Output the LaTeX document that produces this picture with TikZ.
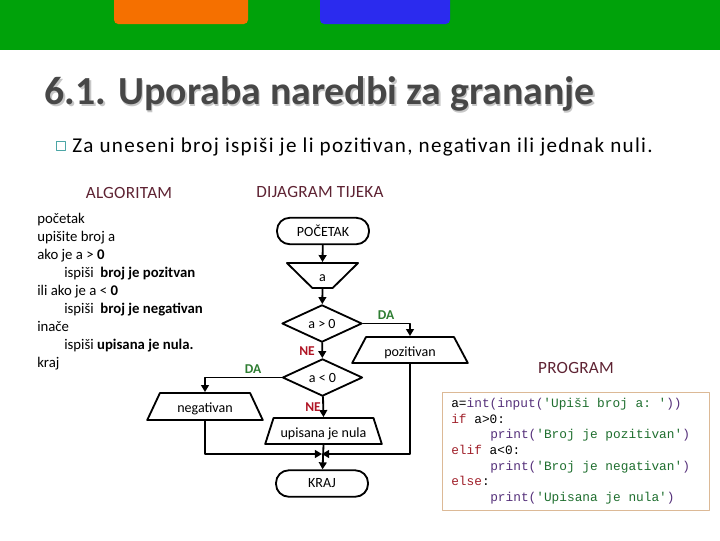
\documentclass[tikz,border=0pt]{standalone}
\usepackage{fontspec}
\setmainfont{Carlito}
\setmonofont{Liberation Mono}
\newfontfamily\spacedfont[LetterSpace=6.2]{Carlito}
\newfontfamily\headfont[LetterSpace=1.5]{Carlito}
\usetikzlibrary{arrows.meta,shapes.geometric}
\definecolor{headgreen}{HTML}{00A20A}
\definecolor{taborange}{HTML}{F57000}
\definecolor{tabblue}{HTML}{2B2BEE}
\definecolor{headred}{HTML}{5E2333}
\definecolor{dagreen}{HTML}{2E7D32}
\definecolor{nered}{HTML}{B01525}
\definecolor{kwred}{HTML}{A0202A}
\definecolor{strgreen}{HTML}{1E6E2E}
\definecolor{fnpurple}{HTML}{55307A}
\newcommand{\iotext}[1]{\raisebox{-2.4pt}[7pt][3pt]{#1}}
\tikzset{
  flowtext/.style={font=\fontsize{10}{12}\selectfont},
  startstop/.style={draw,flowtext,rounded corners=9pt,line width=1.3pt,inner sep=0pt,minimum width=2.3cm,minimum height=0.66cm},
  ioshape/.style={draw,flowtext,trapezium,trapezium stretches=true,line width=1.3pt,inner sep=0pt},
  branch/.style={draw,flowtext,diamond,line width=1.3pt,inner sep=0pt,minimum width=2cm,minimum height=0.93cm},
  flow/.style={line width=1.3pt,->},
  answer/.style={font=\fontsize{9.6}{11}\selectfont\bfseries},
  heading/.style={headred,font=\fontsize{12.2}{14}\headfont},
  algline/.style={anchor=base west,yshift=-3.5pt,inner sep=0pt,font=\fontsize{10.5}{12}\selectfont},
  codeline/.style={anchor=base west,yshift=-2.2pt,inner sep=0pt,font=\ttfamily\fontsize{9.1}{11}\selectfont}
}
\begin{document}
\begin{tikzpicture}[line cap=round,line join=round,>={Triangle[length=5pt,width=5.5pt]},x=0.025cm,y=-0.025cm]
	\useasboundingbox (0,0) rectangle (720,540);
	\fill [headgreen] (0,0) rectangle (720,50);
	\fill [taborange,rounded corners=3pt] (114,-5) -- (114,24) -- (248,24) -- (248,-5) -- cycle;
	\fill [tabblue,rounded corners=3pt] (320,-5) -- (320,24) -- (450,24) -- (450,-5) -- cycle;
	\node (titleshadow) [anchor=west,inner sep=0pt,black!22,font=\fontsize{28.3}{32}\selectfont\bfseries] at (46,95.5) {6.1. Uporaba naredbi za grananje};
	\node (title) [anchor=west,inner sep=0pt,black!72,font=\fontsize{28.3}{32}\selectfont\bfseries] at (44.5,94) {6.1. Uporaba naredbi za grananje};
	\node (bullet) [draw=teal!70,line width=0.5pt,minimum size=0.24cm,inner sep=0pt] at (61,146) {};
	\node (intro) [anchor=west,inner sep=0pt,font=\fontsize{15}{18}\spacedfont] at (72,147) {Za uneseni broj ispiši je li pozitivan, negativan ili jednak nuli.};
	\node (algtitle) [heading] at (129,193) {ALGORITAM};
	\node (flowtitle) [heading] at (320,192) {DIJAGRAM TIJEKA};
	\node (progtitle) [heading] at (576,368) {PROGRAM};
	% algoritam
	\foreach \x/\y/\t in {37/219/početak,37/237/upišite broj a,37/255/ako je a > \textbf{0},64/273/ispiši \ \textbf{broj je pozitvan},37/291/ili ako je a < \textbf{0},64/309/ispiši \ \textbf{broj je negativan},37/327/inače,64/345/ispiši \textbf{upisana je nula.},37/363/kraj}
		\node (alg\y) [algline] at (\x,\y) {\t};
	% dijagram
	\node (start) [startstop] at (323,231) {POČETAK};
	\node (input) [ioshape,shape border rotate=180,trapezium left angle=59,trapezium right angle=59,minimum width=1.78cm,minimum height=0.625cm] at (322.5,275.5) {\iotext{a}};
	\node (test1) [branch] at (322,323.5) {a > 0};
	\node (test2) [branch] at (322.5,377.5) {a < 0};
	\node (pos) [ioshape,trapezium left angle=60,trapezium right angle=60,minimum width=2.9cm,minimum height=0.65cm] at (410,350) {\iotext{pozitivan}};
	\node (neg) [ioshape,trapezium left angle=61,trapezium right angle=61,minimum width=2.9cm,minimum height=0.675cm] at (205,406.5) {\iotext{negativan}};
	\node (zero) [ioshape,trapezium left angle=63,trapezium right angle=63,minimum width=2.925cm,minimum height=0.65cm] at (323.5,431) {\iotext{upisana je nula}};
	\node (kraj) [startstop] at (322,483.5) {KRAJ};
	\coordinate (merge) at (322,454);
	\draw [flow] (start) -- (input.bottom side);
	\draw [flow] (input.top side) -- (test1);
	\draw [flow] (test1) -- (test2);
	\draw [flow] (test2) -- (zero.top side);
	\draw [flow] (zero.bottom side) -- (kraj);
	\draw [flow] (test1.east) -| (pos.top side);
	\draw [flow] (test2.west) -| (neg.top side);
	\draw [flow] (pos.bottom side) |- (merge);
	\draw [flow] (neg.bottom side) |- (merge);
	\node (da1) [answer,dagreen] at (386,315) {DA};
	\node (da2) [answer,dagreen] at (253,369) {DA};
	\node (ne1) [answer,nered] at (307,351) {NE};
	\node (ne2) [answer,nered] at (313,407) {NE};
	% program
	\node (codebox) [draw=brown!55!white,line width=0.7pt,minimum width=6.65cm,minimum height=2.95cm,inner sep=0pt] at (576,451) {};
	\node (code1) [codeline] at (451,404) {a=\textcolor{fnpurple}{int(input(}\textcolor{strgreen}{'Upiši broj a: '}\textcolor{fnpurple}{))}};
	\node (code2) [codeline] at (451,420) {\textcolor{kwred}{if} a>0:};
	\node (code3) [codeline] at (490,435) {\textcolor{fnpurple}{print(}\textcolor{strgreen}{'Broj je pozitivan'}\textcolor{fnpurple}{)}};
	\node (code4) [codeline] at (451,451) {\textcolor{kwred}{elif} a<0:};
	\node (code5) [codeline] at (490,467) {\textcolor{fnpurple}{print(}\textcolor{strgreen}{'Broj je negativan'}\textcolor{fnpurple}{)}};
	\node (code6) [codeline] at (451,482) {\textcolor{kwred}{else}:};
	\node (code7) [codeline] at (490,498) {\textcolor{fnpurple}{print(}\textcolor{strgreen}{'Upisana je nula'}\textcolor{fnpurple}{)}};
\end{tikzpicture}
\end{document}
